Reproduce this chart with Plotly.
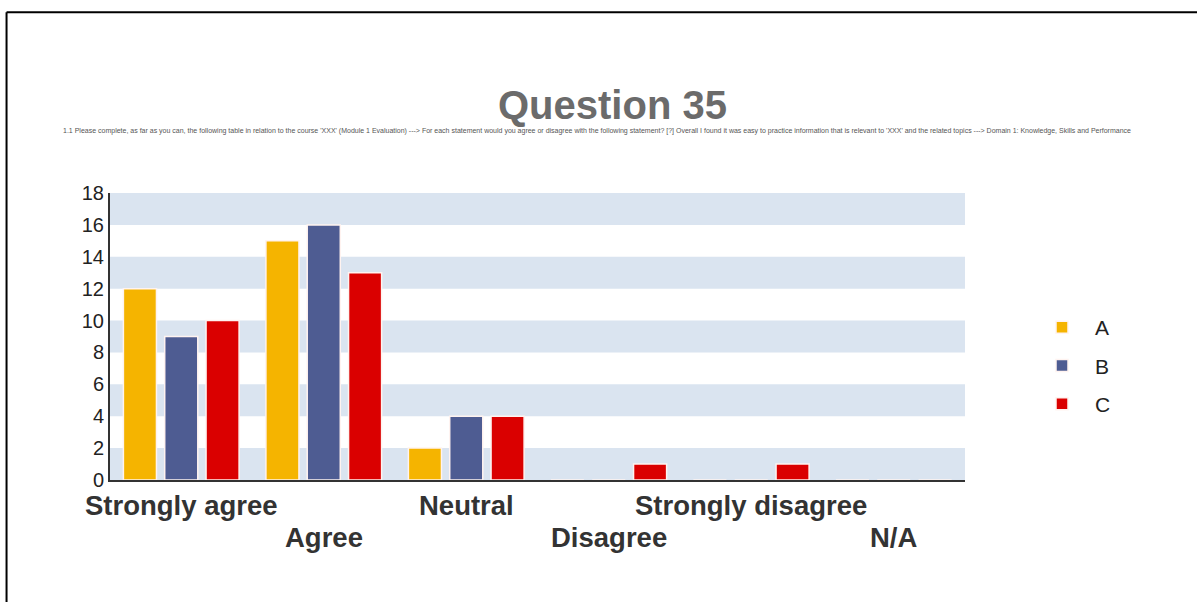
import plotly.graph_objects as go

categories = ["Strongly agree", "Agree", "Neutral", "Disagree", "Strongly disagree", "N/A"]
series_names = ["A", "B", "C"]
values_a = [12, 15, 2, 0, 0, 0]
values_b = [9, 16, 4, 0, 0, 0]
values_c = [10, 13, 4, 1, 1, 0]
y_ticks = [0, 2, 4, 6, 8, 10, 12, 14, 16, 18]
band_starts = [0, 4, 8, 12, 16]

title_text = "Question 35"
subtitle_text = ("1.1 Please complete, as far as you can, the following table in relation to the course 'XXX' (Module 1 Evaluation) "
                 "---> For each statement would you agree or disagree with the following statement? [?] Overall I found it was easy "
                 "to practice information that is relevant to 'XXX' and the related topics ---> Domain 1: Knowledge, Skills and Performance")

colors = ["#F5B400", "#4E5C92", "#DA0000"]

fig = go.Figure()
for name, vals, col in zip(series_names, [values_a, values_b, values_c], colors):
    fig.add_trace(go.Bar(
        x=categories, y=vals, name=name, legendgroup=name,
        marker=dict(color=col, line=dict(color="#FFF3F0", width=1.5)),
    ))

shapes = []
for b in band_starts:
    shapes.append(dict(type="rect", xref="paper", yref="y", x0=0, x1=1, y0=b, y1=b + 2,
                       fillcolor="#DAE4F0", line=dict(width=0), layer="below"))
# outer border (top and left)
shapes.append(dict(type="line", xref="paper", yref="paper", x0=-0.121, x1=1.3, y0=1.63, y1=1.63,
                   line=dict(color="black", width=2)))
shapes.append(dict(type="line", xref="paper", yref="paper", x0=-0.121, x1=-0.121, y0=1.63, y1=-0.45,
                   line=dict(color="black", width=2)))

annotations = []
for i, c in enumerate(categories):
    annotations.append(dict(
        x=c, xref="x", y=0, yref="paper", yanchor="middle", showarrow=False,
        yshift=-25 if i % 2 == 0 else -57,
        text="<b>" + c + "</b>", font=dict(family="Arial", size=27.5, color="#333333")))
annotations.append(dict(x=(612 - 110) / 855, xref="paper", y=(480 - 105) / 287, yref="paper",
                        yanchor="middle", showarrow=False, text="<b>" + title_text + "</b>",
                        font=dict(family="Arial", size=40, color="#6B6B6B")))
annotations.append(dict(x=(597 - 110) / 855, xref="paper", y=(480 - 131) / 287, yref="paper",
                        yanchor="middle", showarrow=False, text=subtitle_text,
                        font=dict(family="Arial", size=7, color="#555555")))

fig.update_layout(
    width=1197, height=602,
    margin=dict(l=110, r=232, t=193, b=122),
    paper_bgcolor="white", plot_bgcolor="white",
    barmode="group", bargap=0.13, bargroupgap=0.2,
    shapes=shapes, annotations=annotations,
    showlegend=True,
    legend=dict(x=(1029 - 110) / 855, y=(480 - 307) / 287, xanchor="left", yanchor="top",
                font=dict(family="Arial", size=21, color="#222222"),
                bgcolor="rgba(0,0,0,0)", tracegroupgap=8, itemwidth=56),
    xaxis=dict(showticklabels=False, showgrid=False, zeroline=False,
               showline=True, linecolor="#333333", linewidth=2, range=[-0.5, 5.5]),
    yaxis=dict(range=[0, 18], tickvals=y_ticks, showgrid=False, zeroline=False,
               showline=True, linecolor="#333333", linewidth=2,
               tickfont=dict(family="Arial", size=20, color="#222222"),
               ticks="", ticklabelstandoff=0),
)

fig.write_html("out.html")
